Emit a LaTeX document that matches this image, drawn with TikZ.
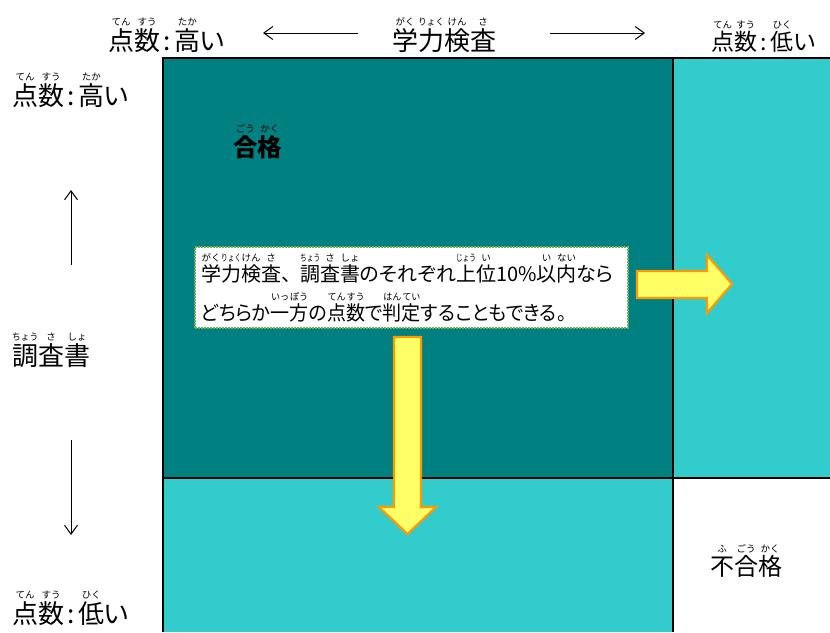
\documentclass[tikz,border=0pt]{standalone}
\usepackage{graphicx}
\usepackage{fontspec}
\setmainfont{Noto Sans CJK JP}[RawFeature=+palt]
\newfontfamily\rubyf{Noto Sans CJK JP}
\usetikzlibrary{arrows.meta}
\definecolor{darkteal}{HTML}{008080}
\definecolor{lightteal}{HTML}{33CCCC}
\definecolor{arrowfill}{HTML}{FFFF66}
\definecolor{arroworange}{HTML}{FF9900}
\definecolor{boxgreen}{HTML}{70B050}
\newbox\rbbase
\newbox\rbtop
\newdimen\rbw
\newcommand\rb[2]{\leavevmode\setbox\rbbase=\hbox{\vphantom{漢}#1}\setbox\rbtop=\hbox{\rubyf\mdseries\fontsize{9.5}{10}\selectfont\vphantom{あ}#2}%
\rbw=\wd\rbbase
\ifdim\wd\rbtop>\rbw \setbox\rbtop=\hbox{\resizebox{\rbw}{\height}{\usebox\rbtop}}\fi
\hbox to \rbw{\hss\vbox{\offinterlineskip\halign{\hfil##\hfil\cr\box\rbtop\cr\noalign{\kern2pt}\box\rbbase\cr}}\hss}}
\newcommand\cln{\hspace{3.5pt}:\hspace{3.5pt}}
\tikzset{
  lbl/.style={inner sep=0pt, anchor=base west, font=\fontsize{26}{28}\selectfont},
  txt/.style={inner sep=0pt, anchor=base west, font=\fontsize{20}{24}\selectfont},
  gridline/.style={line width=1.6pt, black},
  thinarrow/.style={line width=1pt, -{Straight Barb[length=9pt,width=13pt]}},
  blockarrow/.style={fill=arrowfill, draw=arroworange, line width=2.2pt, line join=miter},
  notebox/.style={draw=boxgreen, fill=white, line width=1.5pt, dash pattern=on 2pt off 1pt, minimum width=433pt, minimum height=81pt, inner sep=0pt}
}
\begin{document}
\begin{tikzpicture}[x=1pt,y=-1pt]
\useasboundingbox (0,0) rectangle (830,632);
% regions
\fill[darkteal] (163,58) rectangle (673,478);
\fill[lightteal] (673,58) rectangle (830,478);
\fill[lightteal] (163,478) rectangle (673,632);
\fill[white] (673,478) rectangle (830,632);
% grid lines
\draw[gridline] (163,632) -- (163,58) -- (830,58);
\draw[gridline] (673,58) -- (673,632);
\draw[gridline] (163,478) -- (830,478);
% top labels
\node[lbl] (thigh) at (108,50) {\rb{点}{てん}\rb{数}{すう}\cln\rb{高}{たか}い};
\node[lbl] (gaku) at (392,50) {\rb{学}{がく}\rb{力}{りょく}\rb{検}{けん}\rb{査}{さ}};
\node[lbl, font=\fontsize{23}{26}\selectfont] (tlow) at (711,50) {\rb{点}{てん}\rb{数}{すう}\cln\rb{低}{ひく}い};
\coordinate (ta1) at (358,33);
\coordinate (ta2) at (263,33);
\coordinate (ta3) at (550,33);
\coordinate (ta4) at (645,33);
\draw[thinarrow] (ta1) -- (ta2);
\draw[thinarrow] (ta3) -- (ta4);
% left labels
\node[lbl] (lhigh) at (12,105) {\rb{点}{てん}\rb{数}{すう}\cln\rb{高}{たか}い};
\node[lbl] (chosa) at (12,365) {\rb{調}{ちょう}\rb{査}{さ}\rb{書}{しょ}};
\node[lbl] (llow) at (12,623) {\rb{点}{てん}\rb{数}{すう}\cln\rb{低}{ひく}い};
\coordinate (la1) at (71,265);
\coordinate (la2) at (71,190);
\coordinate (la3) at (71,440);
\coordinate (la4) at (71,535);
\draw[thinarrow] (la1) -- (la2);
\draw[thinarrow] (la3) -- (la4);
% region labels
\node[lbl, font=\fontsize{24.5}{26}\selectfont\bfseries] (pass) at (233,156) {\rb{合}{ごう}\rb{格}{かく}};
\node[lbl, font=\fontsize{24}{26}\selectfont] (fail) at (710,575) {\rb{不}{ふ}\rb{合}{ごう}\rb{格}{かく}};
% note box
\node[notebox] (note) at (411.5,287.5) {};
\node[txt] (line1) at (201,281) {\rb{学}{がく}\rb{力}{りょく}\rb{検}{けん}\rb{査}{さ}、\hspace{9pt}\rb{調}{ちょう}\rb{査}{さ}\rb{書}{しょ}のそれぞれ\rb{上}{じょう}\rb{位}{い}10\%\rb{以}{い}\rb{内}{ない}なら};
\node[txt] (line2) at (201,320) {\scalebox{0.953}[1]{どちらか\rb{一}{いっ}\rb{方}{ぽう}の\rb{点}{てん}\rb{数}{すう}で\rb{判}{はん}\rb{定}{てい}することもできる。}};
% block arrows
\draw[blockarrow] (394,337) -- (421,337) -- (421,507) -- (436,507) -- (407.5,534) -- (379,507) -- (394,507) -- cycle;
\draw[blockarrow] (637,271) -- (707,271) -- (707,255) -- (732,284) -- (707,313) -- (707,298) -- (637,298) -- cycle;
\end{tikzpicture}
\end{document}
